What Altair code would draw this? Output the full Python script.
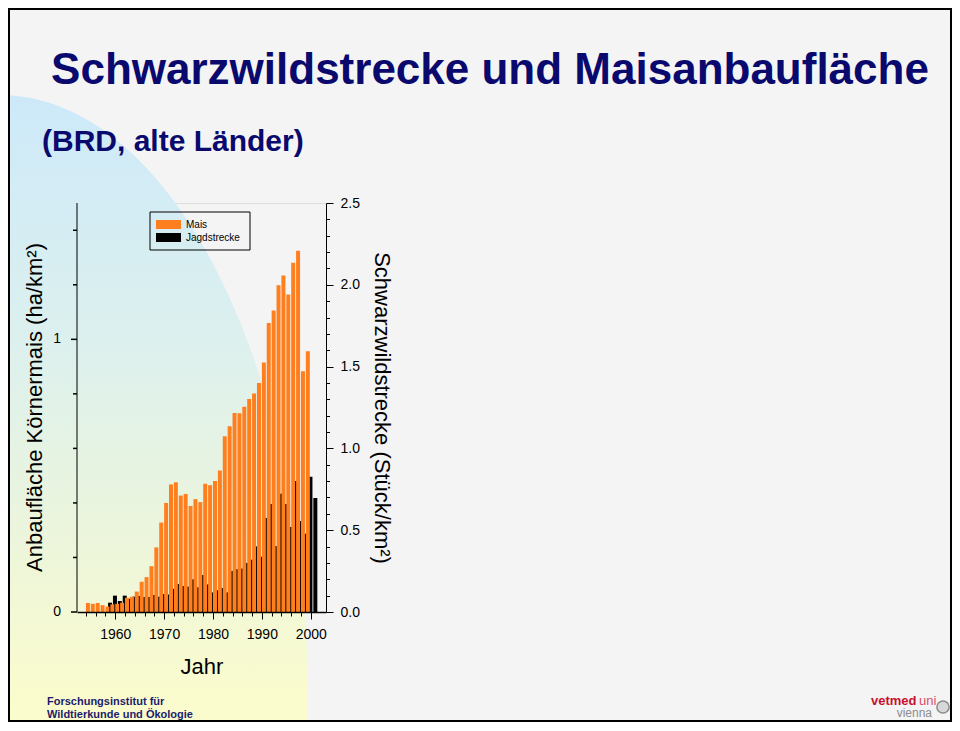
import altair as alt
import pandas as pd

# ---------------- data ----------------
mais_years = list(range(1954, 2000))
mais_values = [0.033, 0.030, 0.033, 0.025, 0.020, 0.028, 0.030, 0.034, 0.052, 0.056,
               0.075, 0.111, 0.128, 0.168, 0.237, 0.328, 0.400, 0.468, 0.476, 0.427,
               0.433, 0.389, 0.414, 0.403, 0.470, 0.465, 0.480, 0.519, 0.645, 0.681,
               0.730, 0.729, 0.753, 0.781, 0.801, 0.840, 0.915, 1.060, 1.106, 1.198,
               1.234, 1.164, 1.281, 1.325, 0.883, 0.956]

jagd_years = list(range(1958, 2001))
jagd_values = [0.057, 0.100, 0.067, 0.100, 0.081, 0.094, 0.098, 0.092, 0.092, 0.104,
               0.094, 0.110, 0.107, 0.142, 0.171, 0.159, 0.155, 0.200, 0.151, 0.226,
               0.169, 0.120, 0.133, 0.147, 0.120, 0.251, 0.262, 0.266, 0.300, 0.320,
               0.401, 0.338, 0.575, 0.660, 0.403, 0.723, 0.660, 0.520, 0.800, 0.556,
               0.479, 0.827, 0.697]

series_names = ["Mais", "Jagdstrecke"]
series_colors = ["#ff7f1f", "#000000"]

x_tick_values = list(range(1954, 2001, 2))
left_domain = [0, 1.5]
left_major_ticks = [0, 1]
left_minor_ticks = [0.2, 0.4, 0.6, 0.8, 1.2, 1.4]
right_tick_values = [round(i * 0.1, 1) for i in range(26)]

title_text = "Schwarzwildstrecke und Maisanbaufläche"
subtitle_text = "(BRD, alte Länder)"
left_title = "Anbaufläche Körnermais (ha/km²)"
right_title = "Schwarzwildstrecke (Stück/km²)"
x_title = "Jahr"

mais_df = pd.DataFrame({"year": mais_years, "value": mais_values, "series": "Mais"})
jagd_df = pd.DataFrame({"year": jagd_years, "value": jagd_values, "series": "Jagdstrecke"})
one = pd.DataFrame({"k": [0]})

# ---------------- layout ----------------
W, H = 249, 409
PAD = {"left": 69, "top": 195, "right": 626, "bottom": 110}
FONT = "Liberation Sans"
NAVY = "#0a0a6e"

# ---------------- background pieces ----------------
grad = {
    "gradient": "linear", "x1": 0, "y1": 0, "x2": 0, "y2": 1,
    "stops": [
        {"offset": 0.0, "color": "#cde9f9"},
        {"offset": 0.2, "color": "#dcf0ee"},
        {"offset": 0.38, "color": "#eef6da"},
        {"offset": 0.5, "color": "#fbfccd"},
        {"offset": 1.0, "color": "#fbfccd"},
    ],
}
ellipse_path = "M -0.5066 0 A 0.5066 1 0 1 0 0.5066 0 A 0.5066 1 0 1 0 -0.5066 0 Z"
ellipse = alt.Chart(one).mark_point(
    shape=ellipse_path, size=1216 * 1216, filled=True, fill=grad, opacity=1, strokeWidth=0
).encode(x=alt.value(-77), y=alt.value(500))

border = alt.Chart(one).mark_rect(
    fillOpacity=0, stroke="black", strokeWidth=2
).encode(x=alt.value(-68), x2=alt.value(874), y=alt.value(-194), y2=alt.value(518))


def txt(text, x, y, size, color="black", weight="normal", align="left", baseline="alphabetic", angle=0):
    return alt.Chart(one).mark_text(
        text=text, font=FONT, fontSize=size, fontWeight=weight, color=color,
        align=align, baseline=baseline, angle=angle
    ).encode(x=alt.value(x), y=alt.value(y))


def box(x, x2, y, y2, fill="#000000", fill_opacity=1, stroke=None, sw=0):
    kw = dict(fill=fill, fillOpacity=fill_opacity, strokeWidth=sw)
    if stroke:
        kw["stroke"] = stroke
    return alt.Chart(one).mark_rect(**kw).encode(
        x=alt.value(x), x2=alt.value(x2), y=alt.value(y), y2=alt.value(y2))


title = txt(title_text, 413, -119, 44, NAVY, "bold", "center")
subtitle = txt(subtitle_text, -35, -52, 30, NAVY, "bold")
foot1 = txt("Forschungsinstitut für", -30, 502, 11, "#1c1c6e", "bold")
foot2 = txt("Wildtierkunde und Ökologie", -30, 515, 11, "#1c1c6e", "bold")
vet1 = txt("vetmed", 794, 502, 13, "#c8102e", "bold")
vet2 = txt("uni", 842, 502, 13, "#d9506a")
vet3 = txt("vienna", 855, 514, 12, "#8c8c8c", align="right")
seal = alt.Chart(one).mark_point(
    shape="circle", size=150, filled=True, fill="#d8d8d8", stroke="#8c8c8c", strokeWidth=1.5, opacity=1
).encode(x=alt.value(866), y=alt.value(504))
left_title_mark = txt(left_title, -42, H / 2, 22, "black", "normal", "center", "middle", 270)

# legend drawn as a small box
leg_box = box(73, 173, 9, 47, fill="#ffffff", fill_opacity=0, stroke="black", sw=1)
leg_sw1 = box(79, 104, 17, 26, fill=series_colors[0])
leg_sw2 = box(79, 104, 30, 39, fill=series_colors[1])
leg_t1 = txt(series_names[0], 109, 22, 10, baseline="middle")
leg_t2 = txt(series_names[1], 109, 35, 10, baseline="middle")

# ---------------- bars ----------------
color = alt.Color("series:N", scale=alt.Scale(domain=series_names, range=series_colors), legend=None)

x_enc = alt.X(
    "year:Q",
    scale=alt.Scale(domain=[1953.2, 2002.1], nice=False, zero=False),
    axis=alt.Axis(
        values=x_tick_values, format="d",
        labelExpr="datum.value % 10 == 0 ? datum.label : ''",
        tickSize={"condition": {"test": "datum.value % 10 == 0", "value": 7}, "value": 4},
        labelPadding=8, labelFontSize=14, labelFont=FONT, labelColor="black",
        labelOverlap=False, labelFlush=False,
        title=x_title, titleFontSize=22, titleFont=FONT, titleFontWeight="normal",
        titleColor="black", titlePadding=15,
        domainColor="black", domainWidth=1.5, tickColor="black", tickWidth=1,
        grid=False, zindex=1,
    ),
)

left_scale = alt.Scale(domain=left_domain, nice=False)

right_axis = alt.Axis(
    orient="right", values=right_tick_values, format=".1f",
    labelExpr="abs(datum.value * 2 - round(datum.value * 2)) < 0.001 ? datum.label : ''",
    tickSize={"condition": {"test": "abs(datum.value * 2 - round(datum.value * 2)) < 0.001", "value": 7}, "value": 3.5},
    labelPadding=7, labelFontSize=14, labelFont=FONT, labelColor="black",
    labelOverlap=False, labelFlush=False,
    title=right_title, titleFontSize=22, titleFont=FONT, titleFontWeight="normal",
    titleColor="black", titlePadding=10,
    domainColor="black", domainWidth=1, tickColor="black", tickWidth=1,
    grid=False, zindex=1,
)

mais = alt.Chart(mais_df).mark_bar(size=4, xOffset=2).encode(
    x=x_enc,
    y=alt.Y("value:Q", scale=left_scale, axis=None),
    color=color,
)

# left axis built from its own small tables on the same y scale
left_axis_line = alt.Chart(pd.DataFrame({"lo": [left_domain[0]], "hi": [left_domain[1]]})).mark_rule(
    color="black", strokeWidth=1
).encode(x=alt.value(0), y=alt.Y("lo:Q", scale=left_scale, axis=None), y2="hi:Q")
ticks_major = alt.Chart(pd.DataFrame({"value": left_major_ticks})).mark_rule(
    color="black", strokeWidth=1.5, opacity=1
).encode(x=alt.value(-6), x2=alt.value(0), y=alt.Y("value:Q", scale=left_scale, axis=None))
ticks_minor = alt.Chart(pd.DataFrame({"value": left_minor_ticks})).mark_rule(
    color="black", strokeWidth=1.5, opacity=1
).encode(x=alt.value(-4), x2=alt.value(0), y=alt.Y("value:Q", scale=left_scale, axis=None))
left_labels = alt.Chart(pd.DataFrame({"value": left_major_ticks})).mark_text(
    align="right", baseline="middle", font=FONT, fontSize=14, color="black"
).encode(x=alt.value(-16), y=alt.Y("value:Q", scale=left_scale, axis=None),
         text=alt.Text("value:Q", format="d"))

left_group = alt.layer(mais, left_axis_line, left_labels, ticks_minor, ticks_major)

jagd = alt.Chart(jagd_df).mark_bar(size=4, xOffset=4.6).encode(
    x=x_enc,
    y=alt.Y("value:Q", scale=alt.Scale(domain=[0, 2.5], nice=False), axis=right_axis),
    color=color,
)

bars = alt.layer(jagd, left_group).resolve_scale(y="independent")

chart = alt.layer(
    ellipse, border, left_title_mark, title, subtitle, foot1, foot2, vet1, vet2, vet3, seal,
    leg_box, leg_sw1, leg_sw2, leg_t1, leg_t2, bars
).resolve_scale(y="independent").properties(
    width=W, height=H, padding=PAD,
    autosize=alt.AutoSizeParams(type="none"),
    background="#f4f4f4",
).configure_view(stroke=None).configure(font=FONT)

chart.save("out.html", embed_options={"renderer": "svg", "actions": False})
